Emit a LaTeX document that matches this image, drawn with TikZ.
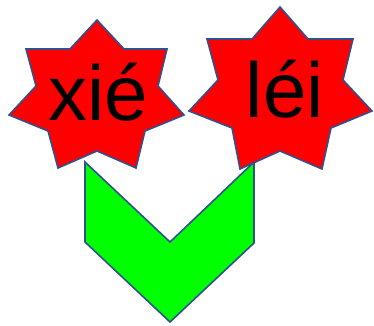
\documentclass[tikz,border=0pt]{standalone}
\usepackage{fontspec}
\setmainfont{Liberation Sans}
\usetikzlibrary{positioning}
\definecolor{edgeblue}{RGB}{47,82,143}

\begin{document}
\begin{tikzpicture}[x=1pt,y=-1pt,line width=1.6pt,
  outlined/.style={draw=edgeblue,line join=miter},
  syl/.style={anchor=base,font=\fontsize{78}{80}\selectfont,inner sep=0pt}]
\useasboundingbox (0,0) rectangle (374,325);
% chevron
\draw[outlined,fill=green] (85,162) -- (170,242) -- (254,162) -- (254,243) -- (170,322) -- (85,242) -- cycle;
% stars
\draw[outlined,fill=red] (97,20) -- (124,49) -- (167,49) -- (158,86) -- (184,115) -- (145,131) -- (136,168)
  -- (97,151) -- (58,168) -- (48,131) -- (9,115) -- (36,86) -- (26,49) -- (70,49) -- cycle;
\draw[outlined,fill=red] (280,7) -- (308,39) -- (353,39) -- (343,80) -- (372,111) -- (331,128) -- (322,169)
  -- (280,151) -- (240,169) -- (232,128) -- (189,111) -- (218,80) -- (207,39) -- (252,39) -- cycle;
\node[syl] (xie) at (98,120) {xié};
\node[syl] (lei) at (285,117) {léi};
\end{tikzpicture}
\end{document}
